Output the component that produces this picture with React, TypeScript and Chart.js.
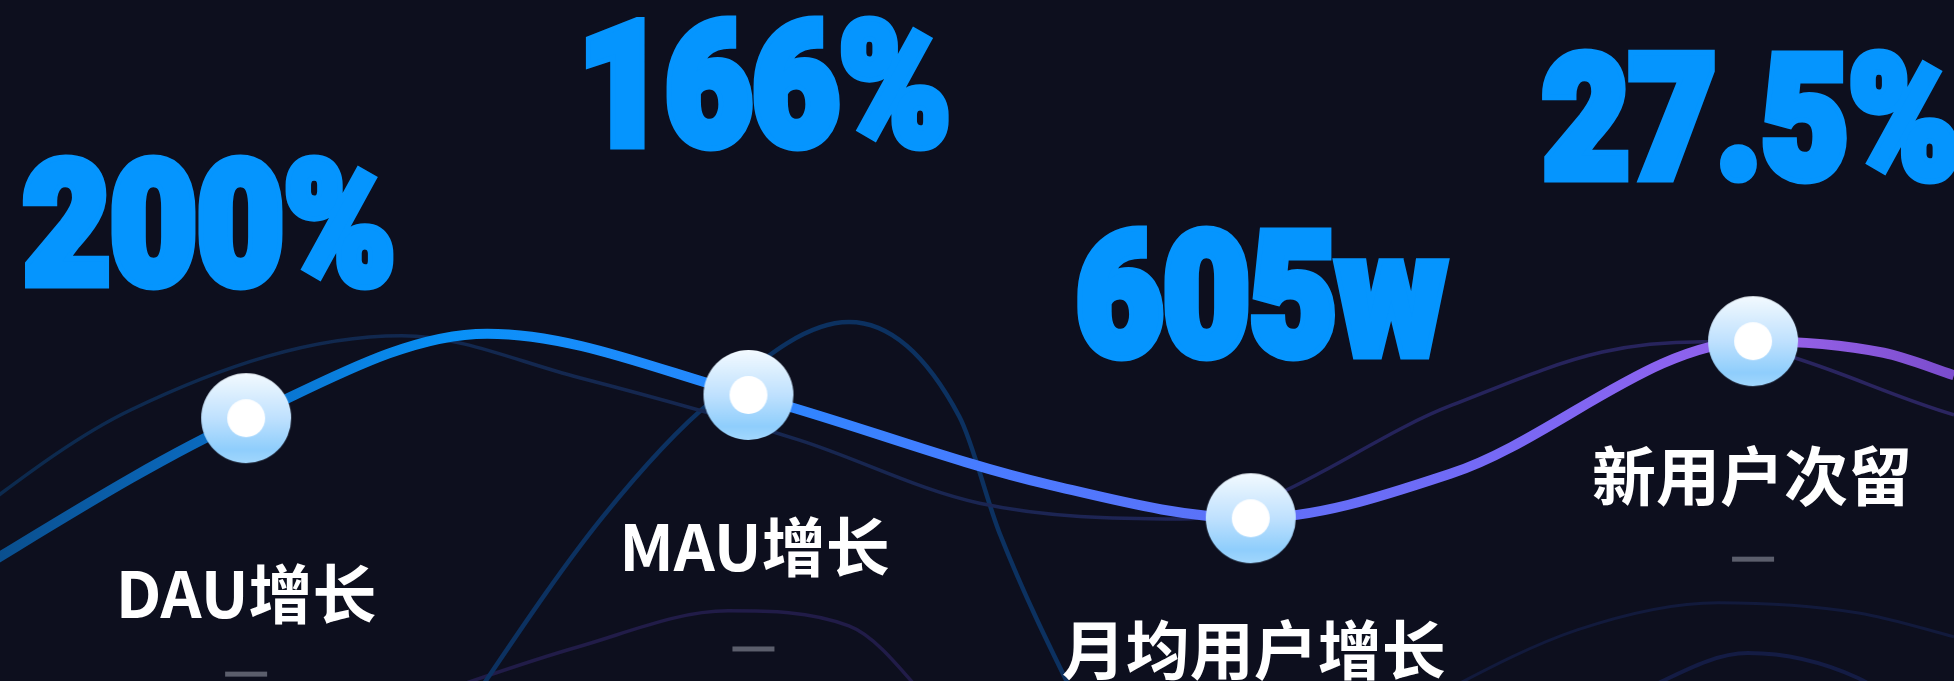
import React, { useEffect, useRef } from 'react';
import { Chart, registerables } from 'chart.js';

Chart.register(...registerables);

// ---- data ----
const categories = ['DAU增长', 'MAU增长', '月均用户增长', '新用户次留'];
const valueLabels = ['200%', '166%', '605w', '27.5%'];
const categoryPositions = [0, 1, 2, 3];
const markerValues = [38.6, 42.0, 23.9, 49.9];

// extra shape points of the main curve
const mainShapeX = [-0.69, 0.48, 1.6, 2.4, 3.26, 3.4, 3.61];
const mainShapeY = [9.5, 51.0, 28.8, 30.5, 48.2, 44.9, 39.8];

// faint background curves
const glowX = [-0.69, -0.23, 0.31, 0.66, 1.1, 1.46, 1.86, 2.4, 2.7, 2.9, 3.4, 3.61];
const glowY = [16.6, 39.8, 50.7, 44.6, 35.4, 26.1, 23.8, 40.5, 48.3, 49.8, 39.1, 34.7];

const bellBlueX = [0.37, 0.71, 0.93, 1.2, 1.42, 1.5, 1.72];
const bellBlueY = [-11.5, 24.1, 41.3, 52.7, 38.8, 21.7, -13.2];

const bellPurpleX = [0.31, 0.66, 0.96, 1.2, 1.4];
const bellPurpleY = [-3.5, 5.0, 10.3, 8.1, -6.2];

const arcRightX = [2.26, 2.65, 2.93, 3.21, 3.4, 3.61];
const arcRightY = [-6.2, 7.5, 11.5, 10.0, 6.5, 2.3];

const arcLowX = [2.7, 2.82, 2.99, 3.21, 3.33];
const arcLowY = [-5.7, 0, 4.1, 0.4, -5.7];

// ---- helpers ----
const zip = (xs: number[], ys: number[]) => xs.map((x, i) => ({ x, y: ys[i] }));

const markerPoints = zip(categoryPositions, markerValues);
const mainPoints = [...zip(mainShapeX, mainShapeY), ...markerPoints].sort((a, b) => a.x - b.x);

function hGradient(chart: any, stops: [number, string][], fallback: string) {
  const area = chart.chartArea;
  if (!area) return fallback;
  const g = chart.ctx.createLinearGradient(area.left, 0, area.right, 0);
  stops.forEach(([p, c]) => g.addColorStop(p, c));
  return g;
}

function makeMarker(): HTMLCanvasElement {
  const c = document.createElement('canvas');
  c.width = 92;
  c.height = 92;
  const g = c.getContext('2d')!;
  const grad = g.createLinearGradient(0, 1, 0, 91);
  grad.addColorStop(0, '#f3faff');
  grad.addColorStop(0.5, '#bfe1fe');
  grad.addColorStop(0.85, '#8fcefc');
  grad.addColorStop(1, '#a2d7fd');
  g.fillStyle = grad;
  g.beginPath();
  g.arc(46, 46, 45, 0, Math.PI * 2);
  g.fill();
  g.fillStyle = '#ffffff';
  g.beginPath();
  g.arc(46, 46, 19, 0, Math.PI * 2);
  g.fill();
  return c;
}

const labelPlugin = {
  id: 'pointLabels',
  afterDatasetsDraw(chart: any, _args: any, opts: any) {
    const meta = chart.getDatasetMeta(opts.datasetIndex);
    const ctx: CanvasRenderingContext2D = chart.ctx;
    ctx.save();
    const fam = opts.valueFamily;
    ctx.font = `900 200px ${fam}`;
    const asc = ctx.measureText('0').actualBoundingBoxAscent || 145;
    const fs = (200 * opts.valueHeight) / asc;
    ctx.font = `900 ${fs}px ${fam}`;
    const condense = opts.valueRefWidth / ctx.measureText(opts.values[0]).width;

    meta.data.forEach((pt: any, i: number) => {
      const { x, y } = pt;
      const [vdx, vdy] = opts.valueOffsets[i];
      ctx.save();
      ctx.translate(x + vdx, y + vdy);
      ctx.scale(condense, 1);
      ctx.font = `900 ${fs}px ${fam}`;
      ctx.textAlign = 'center';
      ctx.textBaseline = 'alphabetic';
      ctx.fillStyle = opts.valueColor;
      ctx.strokeStyle = opts.valueColor;
      ctx.lineWidth = opts.valueStroke;
      ctx.lineJoin = 'miter';
      ctx.miterLimit = 2;
      ctx.strokeText(opts.values[i], 0, -opts.valueStroke / 2);
      ctx.fillText(opts.values[i], 0, -opts.valueStroke / 2);
      ctx.restore();

      const [ndx, ndy] = opts.nameOffsets[i];
      ctx.font = opts.nameFont;
      ctx.textAlign = 'center';
      ctx.textBaseline = 'middle';
      ctx.fillStyle = opts.nameColor;
      ctx.fillText(opts.names[i], x + ndx, y + ndy);

      const [ddx, ddy] = opts.dashOffsets[i];
      ctx.fillStyle = opts.dashColor;
      ctx.fillRect(x + ddx - opts.dashWidth / 2, y + ddy - opts.dashHeight / 2, opts.dashWidth, opts.dashHeight);
    });
    ctx.restore();
  },
};

export default function App() {
  const ref = useRef<HTMLCanvasElement>(null);

  useEffect(() => {
    document.body.style.margin = '0';
    const marker = makeMarker();
    const faint = (data: { x: number; y: number }[], color: any, width: number, order: number) => ({
      data,
      borderColor: color,
      borderWidth: width,
      pointRadius: 0,
      fill: false,
      cubicInterpolationMode: 'monotone' as const,
      order,
    });

    const chart = new Chart(ref.current!, {
      type: 'line',
      data: {
        datasets: [
          {
            data: markerPoints,
            showLine: false,
            pointStyle: marker as any,
            pointRadius: 45,
            borderWidth: 0,
            order: 0,
          },
          {
            data: mainPoints,
            borderColor: (c: any) =>
              hGradient(
                c.chart,
                [
                  [0, '#0a4f8e'],
                  [0.125, '#0a6fc8'],
                  [0.23, '#0891f7'],
                  [0.385, '#2a87ff'],
                  [0.51, '#4a7bff'],
                  [0.64, '#5e70f8'],
                  [0.74, '#706bf6'],
                  [0.845, '#8a63f0'],
                  [0.92, '#9460e6'],
                  [1, '#7a4ccc'],
                ],
                '#2a87ff'
              ),
            borderWidth: 10,
            pointRadius: 0,
            fill: false,
            cubicInterpolationMode: 'monotone',
            order: 1,
          },
          faint(
            zip(glowX, glowY),
            (c: any) =>
              hGradient(
                c.chart,
                [
                  [0, '#0c2a4e'],
                  [0.45, '#182650'],
                  [0.7, '#24235a'],
                  [1, '#2b2560'],
                ],
                '#182650'
              ),
            3.5,
            3
          ),
          faint(zip(bellBlueX, bellBlueY), '#0c3160', 4.5, 4),
          faint(zip(bellPurpleX, bellPurpleY), '#211c48', 3.5, 5),
          faint(zip(arcRightX, arcRightY), '#121a3c', 3, 6),
          faint(zip(arcLowX, arcLowY), '#141c44', 4, 7),
        ],
      },
      options: {
        responsive: false,
        animation: false,
        layout: { padding: 0, autoPadding: false },
        scales: {
          x: { type: 'linear', min: -0.49, max: 3.4, display: false },
          y: { type: 'linear', min: 0, max: 100, display: false },
        },
        plugins: {
          legend: { display: false },
          tooltip: { enabled: false },
          pointLabels: {
            datasetIndex: 0,
            values: valueLabels,
            names: categories,
            valueFamily: 'Roboto, "DejaVu Sans", sans-serif',
            valueHeight: 124,
            valueRefWidth: 372,
            valueStroke: 11,
            valueColor: '#0595fe',
            valueOffsets: [
              [-37, -130],
              [16, -245],
              [10, -159],
              [-2, -159],
            ],
            nameFont: 'bold 64px "Noto Sans CJK SC", sans-serif',
            nameColor: '#ffffff',
            nameOffsets: [
              [0, 176],
              [6, 152],
              [3, 131],
              [-1, 135],
            ],
            dashColor: '#5b5e6c',
            dashWidth: 42,
            dashHeight: 5,
            dashOffsets: [
              [0, 256],
              [5, 254],
              [3, 254],
              [0, 218],
            ],
          },
        } as any,
      },
      plugins: [labelPlugin],
    });
    return () => chart.destroy();
  }, []);

  return (
    <div style={{ position: 'fixed', left: 0, top: 0, width: 1954, height: 681, background: '#0d0f1e', overflow: 'hidden' }}>
      <canvas ref={ref} width={1954} height={681} style={{ display: 'block', width: 1954, height: 681 }} />
    </div>
  );
}
